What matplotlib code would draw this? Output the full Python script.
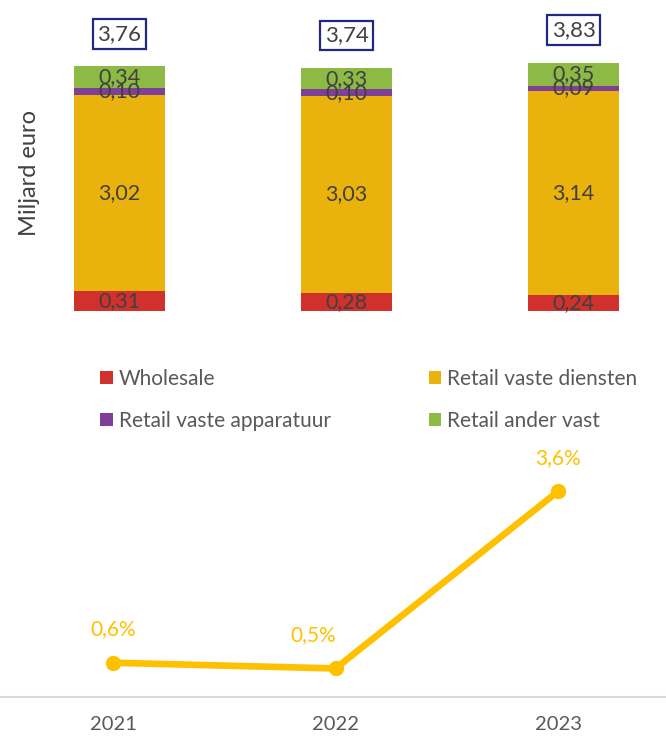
import numpy as np
import matplotlib.pyplot as plt

plt.rcParams['font.family'] = ['Lato', 'DejaVu Sans']

years = ['2021', '2022', '2023']
wholesale = [0.31, 0.28, 0.24]
retail_diensten = [3.02, 3.03, 3.14]
retail_apparatuur = [0.10, 0.10, 0.09]
retail_ander = [0.34, 0.33, 0.35]
totals = ['3,76', '3,74', '3,83']
groei = [0.6, 0.5, 3.6]
groei_labels = ['0,6%', '0,5%', '3,6%']

series = [
    ('Wholesale', wholesale, '#D0312D'),
    ('Retail vaste diensten', retail_diensten, '#EAB20C'),
    ('Retail vaste apparatuur', retail_apparatuur, '#7F3F98'),
    ('Retail ander vast', retail_ander, '#8CBA44'),
]

fig = plt.figure(figsize=(6.66, 7.43), dpi=100)

# bovenste deel: gestapelde staven
ax = fig.add_axes([0, 0.5814, 1, 0.3917])
x = np.arange(len(years))
bottom = np.zeros(len(years))
bars = {}
for name, vals, col in series:
    vals = np.array(vals)
    bars[name] = ax.bar(x, vals, 0.4, bottom=bottom, color=col, label=name)
    for i, v in enumerate(vals):
        ax.text(x[i], bottom[i] + v / 2, f'{v:.2f}'.replace('.', ','),
                ha='center', va='center', fontsize=15.5, color='#404040')
    bottom += vals

for i, t in enumerate(totals):
    ax.text(x[i], bottom[i] + 0.5, t, ha='center', va='center', fontsize=16,
            color='#404040',
            bbox=dict(boxstyle='square,pad=0.22', fc='white', ec='#1F2A80', lw=1.6))

ax.set_xlim(-119.5 / 227, 2 + (666 - 573.5) / 227)
ax.set_ylim(0, 4.48)
ax.axis('off')
fig.text(0.044, 0.767, 'Miljard euro', rotation=90, ha='center', va='center',
         fontsize=17, color='#404040')

order = ['Wholesale', 'Retail vaste apparatuur', 'Retail vaste diensten', 'Retail ander vast']
fig.legend([bars[n] for n in order], order, ncol=2, frameon=False,
           loc='center left', bbox_to_anchor=(0.122, 0.462),
           fontsize=15, labelcolor='#595959', handlelength=0.6, handleheight=0.6,
           handletextpad=0.3, columnspacing=4.7, labelspacing=1.05)

# onderste deel: groeilijn
ax2 = fig.add_axes([0, 0.0619, 1, 0.319])
ax2.plot(x, groei, color='#FFC000', lw=4.8, marker='o', ms=10)
offsets = [(0, 17), (-16, 17), (0, 17)]
for i, lab in enumerate(groei_labels):
    ax2.annotate(lab, (x[i], groei[i]), xytext=offsets[i], textcoords='offset points',
                 ha='center', va='bottom', fontsize=15, color='#FFC000')
ax2.set_xlim(-113 / 222.5, 2 + (666 - 558) / 222.5)
ax2.set_ylim(0, 4.15)
for s in ['top', 'right', 'left']:
    ax2.spines[s].set_visible(False)
ax2.spines['bottom'].set_color('#D9D9D9')
ax2.spines['bottom'].set_linewidth(1.5)
ax2.set_yticks([])
ax2.set_xticks(x)
ax2.set_xticklabels(years, fontsize=14.5, color='#595959')
ax2.tick_params(axis='x', length=0, pad=14)

fig.savefig('out.png', dpi=100)
